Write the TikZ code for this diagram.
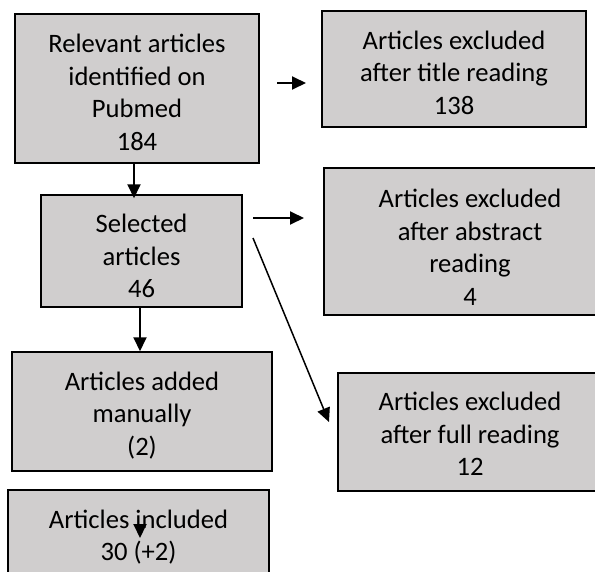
\documentclass[tikz,border=0pt]{standalone}
\usepackage{fontspec}
\setmainfont{Carlito}
\usetikzlibrary{arrows.meta}
\definecolor{boxgray}{RGB}{208,206,206}
\begin{document}
\begin{tikzpicture}[x=1pt,y=-1pt,
  box/.style={draw=black, line width=1.5pt, fill=boxgray, inner sep=0pt},
  txt/.style={align=center, inner sep=0pt, font=\fontsize{26.6}{32.5}\selectfont},
  arr/.style={line width=1.9pt, -{Triangle[length=14pt,width=13pt]}}]
\useasboundingbox (0,0) rectangle (595,571);
\node[box, minimum width=244pt, minimum height=149pt,
  label={[txt,yshift=-4pt]center:{Relevant articles\\identified on\\Pubmed\\184}}] (rel) at (137,88.5) {};
\node[box, minimum width=264pt, minimum height=116pt,
  label={[txt,yshift=-3.5pt]center:{Articles excluded\\after title reading\\138}}] (title) at (454,69) {};
\node[box, minimum width=201pt, minimum height=112pt,
  label={[txt,yshift=-5pt]center:{Selected\\articles\\46}}] (sel) at (141.5,251) {};
\node[box, minimum width=292pt, minimum height=147pt,
  label={[txt,yshift=-6pt]center:{Articles excluded\\after abstract\\reading\\4}}] (abs) at (470,241.5) {};
\node[box, minimum width=260pt, minimum height=119pt,
  label={[txt,yshift=-4pt]center:{Articles added\\manually\\(2)}}] (add) at (142,411.5) {};
\node[box, minimum width=264pt, minimum height=118pt,
  label={[txt,yshift=-2pt]center:{Articles excluded\\after full reading\\12}}] (full) at (470,432) {};
\node[box, minimum width=261pt, minimum height=90pt,
  label={[txt,yshift=-2pt]center:{Articles included\\30 (+2)}}] (inc) at (138.5,535) {};
\coordinate (c1) at (134,0);
\coordinate (c2) at (140,0);
\draw[arr, shorten >=-4pt] (rel.south -| c1) -- (sel.north -| c1);
\draw[arr] (sel.south -| c2) -- (add.north -| c2);
\coordinate (b1) at (277,83);
\coordinate (b2) at (306,83);
\draw[arr] (b1) -- (b2);
\coordinate (d1) at (253,218);
\coordinate (d2) at (304,218);
\draw[arr] (d1) -- (d2);
\coordinate (e1) at (253,238);
\coordinate (e2) at (329,422);
\draw[arr, line width=1.5pt] (e1) -- (e2);
\coordinate (f1) at (140,524);
\coordinate (f2) at (140,538);
\draw[arr] (f1) -- (f2);
\end{tikzpicture}
\end{document}
